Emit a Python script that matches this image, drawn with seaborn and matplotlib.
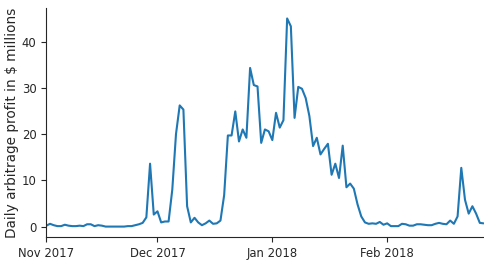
import pandas as pd
import numpy as np
import matplotlib
matplotlib.use("Agg")
import matplotlib.pyplot as plt
import matplotlib.dates as mdates
import seaborn as sns

# daily profit ($ millions), one list per month
nov = [0.2, 0.6, 0.3, 0.1, 0.1, 0.4, 0.2, 0.1, 0.1, 0.2, 0.1, 0.5, 0.5, 0.1, 0.3,
       0.2, 0.0, 0.0, 0.0, 0.0, 0.0, 0.0, 0.1, 0.1, 0.3, 0.5, 0.8, 2.0, 13.6, 2.6]
dec = [3.3, 0.9, 1.1, 1.1, 8.0, 20.0, 26.2, 25.3, 4.4, 0.9, 1.9, 0.9, 0.3, 0.7, 1.3,
       0.6, 0.7, 1.3, 6.8, 19.7, 19.7, 24.9, 18.4, 21.0, 19.2, 34.3, 30.6, 30.3, 18.1,
       21.0, 20.6]
jan = [18.7, 24.6, 21.4, 23.0, 45.0, 43.3, 23.5, 30.2, 29.8, 27.8, 23.9, 17.4, 19.2,
       15.6, 16.8, 17.9, 11.2, 13.6, 10.5, 17.5, 8.5, 9.3, 8.2, 4.8, 2.2, 0.9, 0.6,
       0.7, 0.6, 1.0, 0.4]
feb = [0.7, 0.1, 0.1, 0.1, 0.6, 0.5, 0.2, 0.2, 0.5, 0.5, 0.4, 0.3, 0.3, 0.6, 0.8,
       0.6, 0.5, 1.3, 0.6, 2.2, 12.7, 5.8, 2.8, 4.4, 2.8, 0.8, 0.7]

profit = nov + dec + jan + feb
dates = pd.date_range("2017-11-01", periods=len(profit), freq="D")
df = pd.DataFrame({"date": dates, "profit": profit})

sns.set_style("ticks")
plt.rcParams['font.family'] = ['DejaVu Sans']

fig = plt.figure(figsize=(4.84, 2.68), dpi=100)
ax = fig.add_axes([0.0957, 0.1157, 0.9033, 0.8543])

sns.lineplot(data=df, x="date", y="profit", ax=ax, color="#1f77b4", linewidth=1.5)

ax.set_xlim(dates[0], dates[-1])
ax.xaxis.set_major_locator(mdates.MonthLocator())
ax.xaxis.set_major_formatter(mdates.DateFormatter("%b %Y"))
ax.set_yticks([0, 10, 20, 30, 40])
ax.tick_params(labelsize=8.4)
ax.set_xlabel("")
ax.set_ylabel("Daily arbitrage profit in $ millions", fontsize=9.8)
ax.yaxis.set_label_coords(-0.062, 0.5)
sns.despine(ax=ax)

plt.savefig("out.png", dpi=100)
plt.close()
